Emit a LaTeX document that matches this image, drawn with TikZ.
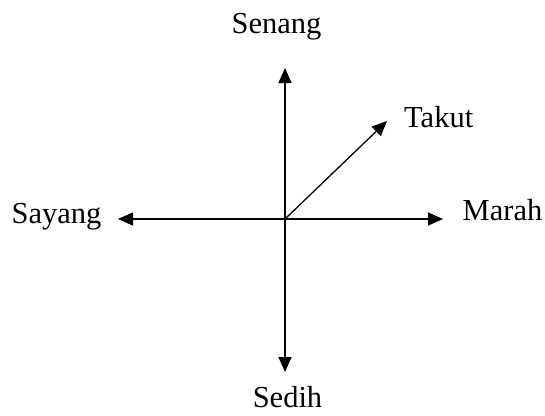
\documentclass[tikz,border=0pt]{standalone}
\usepackage{fontspec}
\setmainfont{Liberation Serif}
\usetikzlibrary{arrows.meta}

\begin{document}
\begin{tikzpicture}[x=1pt, y=-1pt,
                label/.style={font=\fontsize{30.5}{33}\selectfont, inner sep=0pt},
                arrow/.style={draw, line width=1.3pt, -{Triangle[length=15pt, width=13pt]}}
            ]
            \useasboundingbox (0,0) rectangle (545,415);
            \coordinate (origin) at (285,219);
            \coordinate (up) at (285,68);
            \coordinate (down) at (285,372);
            \coordinate (left) at (118,219);
            \coordinate (right) at (443,219);
            \coordinate (diag) at (387,121);
            \node[label, anchor=base] (senang) at (276.5,33) {Senang};
            \node[label, anchor=base] (sedih) at (287.5,407) {Sedih};
            \node[label, anchor=base west] (sayang) at (11.5,223) {Sayang};
            \node[label, anchor=base west] (marah) at (462.5,220) {Marah};
            \node[label, anchor=base west] (takut) at (404,127) {Takut};
            \path[arrow] (origin) -- (up);
            \path[arrow] (origin) -- (down);
            \path[arrow] (origin) -- (left);
            \path[arrow] (origin) -- (right);
            \path[arrow] (origin) -- (diag);
        \end{tikzpicture}
\end{document}
